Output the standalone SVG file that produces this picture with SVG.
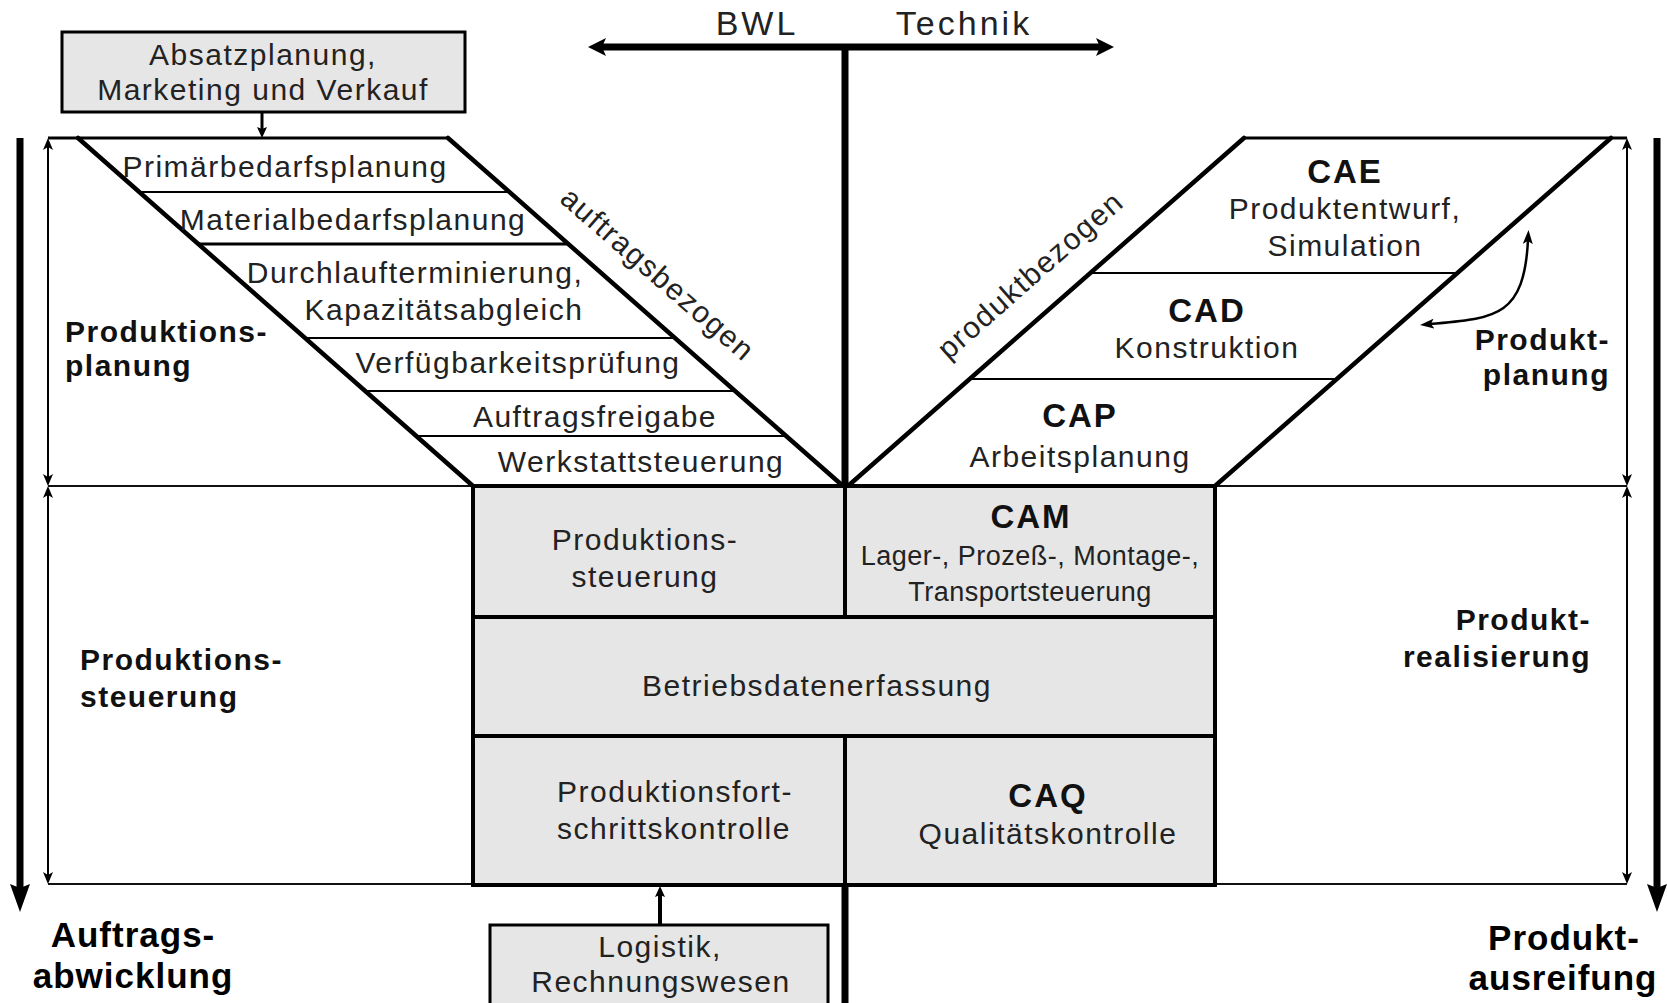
<svg xmlns="http://www.w3.org/2000/svg" width="1667" height="1003" viewBox="0 0 1667 1003">
  <defs>
    <style>
      text { font-family: "Liberation Sans", Arial, Helvetica, sans-serif; }
      .t { font-size: 30px; letter-spacing: 1.5px; fill: #222; text-anchor: middle; }
      .s { font-size: 27px; letter-spacing: 0.5px; }
      .acr { font-size: 33px; font-weight: bold; letter-spacing: 2px; fill: #111; text-anchor: middle; }
      .lab { font-size: 30px; font-weight: bold; letter-spacing: 1.5px; fill: #111; }
      .end { text-anchor: end; }
      .big { font-size: 35px; font-weight: bold; letter-spacing: 1px; fill: #000; text-anchor: middle; }
      .hdr { font-size: 34px; letter-spacing: 3px; fill: #222; text-anchor: middle; }
      .box { fill: #e6e6e6; stroke: #000; stroke-width: 3; }
      .core { fill: #e6e6e6; stroke: #000; stroke-width: 4; }
      .div { stroke: #000; stroke-width: 4; fill: none; }
      .edge { stroke: #000; stroke-width: 4.5; fill: none; stroke-linecap: round; }
      .top { stroke: #000; stroke-width: 3; fill: none; }
      .row { stroke: #000; stroke-width: 2; fill: none; }
      .rule { stroke: #111; stroke-width: 2; fill: none; }
      .axis { stroke: #000; stroke-width: 7; fill: none; }
      .dim { stroke: #000; stroke-width: 2; fill: none; marker-start: url(#ah-s); marker-end: url(#ah-s); }
      .flow { stroke: #000; stroke-width: 7; fill: none; marker-end: url(#ah-xl); }
    </style>
    <marker id="ah-s" viewBox="0 0 12 10" refX="9" refY="5" markerWidth="12" markerHeight="10" markerUnits="userSpaceOnUse" orient="auto-start-reverse">
      <path d="M0,0 L12,5 L0,10 L3,5 z" fill="#000"/>
    </marker>
    <marker id="ah-xl" viewBox="0 0 28 20" refX="6" refY="10" markerWidth="28" markerHeight="20" markerUnits="userSpaceOnUse" orient="auto-start-reverse">
      <path d="M0,0 L28,10 L0,20 L4,10 z" fill="#000"/>
    </marker>
    <marker id="ah-m" viewBox="0 0 18 18" refX="5" refY="9" markerWidth="18" markerHeight="18" markerUnits="userSpaceOnUse" orient="auto-start-reverse">
      <path d="M0,0 L18,9 L0,18 L4,9 z" fill="#000"/>
    </marker>
    <marker id="ah-sm" viewBox="0 0 11 10" refX="4" refY="5" markerWidth="11" markerHeight="10" markerUnits="userSpaceOnUse" orient="auto-start-reverse">
      <path d="M0,0 L11,5 L0,10 L2,5 z" fill="#000"/>
    </marker>
    <marker id="ah-c" viewBox="0 0 14 10" refX="4" refY="5" markerWidth="14" markerHeight="10" markerUnits="userSpaceOnUse" orient="auto-start-reverse">
      <path d="M0,0 L14,5 L0,10 L3,5 z" fill="#000"/>
    </marker>
  </defs>

  <rect width="1667" height="1003" fill="#fff"/>

  <!-- frame rules bounding the planning and control zones -->
  <g id="frame">
    <line class="top" x1="48" y1="138" x2="448" y2="138"/>
    <line class="top" x1="1244" y1="138" x2="1627" y2="138"/>
    <line class="rule" x1="48" y1="486" x2="473" y2="486"/>
    <line class="rule" x1="1215" y1="486" x2="1627" y2="486"/>
    <line class="rule" x1="48" y1="884" x2="473" y2="884"/>
    <line class="rule" x1="1215" y1="884" x2="1627" y2="884"/>
  </g>

  <!-- order-related planning funnel (left) -->
  <g id="auftragsbezogen">
    <line class="row" x1="139" y1="192" x2="509" y2="192"/>
    <line class="top" x1="198" y1="244" x2="568" y2="244"/>
    <line class="row" x1="305" y1="338" x2="675" y2="338"/>
    <line class="row" x1="365" y1="391" x2="735" y2="391"/>
    <line class="row" x1="416" y1="436" x2="786" y2="436"/>
    <line class="edge" x1="78" y1="138" x2="473" y2="486"/>
    <line class="edge" x1="448" y1="138" x2="843" y2="486"/>
    <text class="t" x="285" y="177">Primärbedarfsplanung</text>
    <text class="t" x="353" y="230">Materialbedarfsplanung</text>
    <text class="t" x="415" y="283">Durchlaufterminierung,</text>
    <text class="t" x="444" y="320">Kapazitätsabgleich</text>
    <text class="t" x="518" y="373">Verfügbarkeitsprüfung</text>
    <text class="t" x="595" y="427">Auftragsfreigabe</text>
    <text class="t" x="641" y="472">Werkstattsteuerung</text>
    <text class="t" transform="translate(657,275) rotate(41.1)" x="0" y="9">auftragsbezogen</text>
  </g>

  <!-- product-related planning funnel (right) -->
  <g id="produktbezogen">
    <line class="row" x1="1090" y1="273" x2="1457" y2="273"/>
    <line class="row" x1="970" y1="379" x2="1337" y2="379"/>
    <line class="edge" x1="1244" y1="138" x2="848" y2="486"/>
    <line class="edge" x1="1611" y1="138" x2="1215" y2="486"/>
    <text class="acr" x="1345" y="183">CAE</text>
    <text class="t" x="1345" y="219">Produktentwurf,</text>
    <text class="t" x="1345" y="256">Simulation</text>
    <text class="acr" x="1207" y="322">CAD</text>
    <text class="t" x="1207" y="358">Konstruktion</text>
    <text class="acr" x="1080" y="427">CAP</text>
    <text class="t" x="1080" y="467">Arbeitsplanung</text>
    <text class="t" transform="translate(1031,276) rotate(-41.4)" x="0" y="9">produktbezogen</text>
  </g>

  <!-- shop-floor block -->
  <g id="fertigung">
    <rect class="core" x="473" y="486" width="742" height="399"/>
    <line class="div" x1="473" y1="617" x2="1215" y2="617"/>
    <line class="div" x1="473" y1="736" x2="1215" y2="736"/>
    <line class="div" x1="845" y1="486" x2="845" y2="617"/>
    <line class="div" x1="845" y1="736" x2="845" y2="885"/>
    <text class="t" x="645" y="550">Produktions-</text>
    <text class="t" x="645" y="587">steuerung</text>
    <text class="acr" x="1031" y="528">CAM</text>
    <text class="t s" x="1030" y="565">Lager-, Prozeß-, Montage-,</text>
    <text class="t s" x="1030" y="601">Transportsteuerung</text>
    <text class="t" x="817" y="696">Betriebsdatenerfassung</text>
    <text class="t" x="675" y="802">Produktionsfort-</text>
    <text class="t" x="674" y="839">schrittskontrolle</text>
    <text class="acr" x="1048" y="807">CAQ</text>
    <text class="t" x="1048" y="844">Qualitätskontrolle</text>
  </g>

  <g id="absatzplanung">
    <rect class="box" x="62" y="32" width="403" height="80"/>
    <text class="t" x="263" y="65">Absatzplanung,</text>
    <text class="t" x="263" y="100">Marketing und Verkauf</text>
  </g>

  <g id="logistik">
    <rect class="box" x="490" y="925" width="338" height="90"/>
    <text class="t" x="660" y="957">Logistik,</text>
    <text class="t" x="661" y="992">Rechnungswesen</text>
  </g>

  <g id="bereiche">
    <text class="hdr" x="757" y="35">BWL</text>
    <text class="hdr" x="964" y="35">Technik</text>
    <text class="lab" x="65" y="342">Produktions-</text>
    <text class="lab" x="65" y="376">planung</text>
    <text class="lab" x="80" y="670">Produktions-</text>
    <text class="lab" x="80" y="707">steuerung</text>
    <text class="lab end" x="1610" y="350">Produkt-</text>
    <text class="lab end" x="1610" y="385">planung</text>
    <text class="lab end" x="1591" y="630">Produkt-</text>
    <text class="lab end" x="1591" y="667">realisierung</text>
    <text class="big" x="133" y="947">Auftrags-</text>
    <text class="big" x="133" y="988">abwicklung</text>
    <text class="big" x="1564" y="950" fill="#111">Produkt-</text>
    <text class="big" x="1563" y="990" fill="#111">ausreifung</text>
  </g>

  <g id="connectors">
    <!-- BWL / Technik axis -->
    <line class="axis" x1="601" y1="47" x2="1101" y2="47" marker-start="url(#ah-m)" marker-end="url(#ah-m)"/>
    <line class="axis" x1="845" y1="47" x2="845" y2="486"/>
    <line class="axis" x1="845" y1="885" x2="845" y2="1010"/>
    <!-- process flow arrows -->
    <line class="flow" x1="20" y1="138" x2="20" y2="890"/>
    <line class="flow" x1="1657" y1="138" x2="1657" y2="890"/>
    <!-- zone extents -->
    <line class="dim" x1="48" y1="141" x2="48" y2="483"/>
    <line class="dim" x1="48" y1="489" x2="48" y2="881"/>
    <line class="dim" x1="1627" y1="141" x2="1627" y2="483"/>
    <line class="dim" x1="1627" y1="489" x2="1627" y2="881"/>
    <!-- inputs -->
    <line x1="262" y1="112" x2="262" y2="131" stroke="#000" stroke-width="3" marker-end="url(#ah-sm)"/>
    <line x1="660" y1="925" x2="660" y2="893" stroke="#000" stroke-width="4" marker-end="url(#ah-sm)"/>
    <!-- CAE / CAD feedback -->
    <path d="M1430,324 C1495,318 1524,318 1528,240" stroke="#000" stroke-width="2.5" fill="none" marker-start="url(#ah-c)" marker-end="url(#ah-c)"/>
  </g>
</svg>
